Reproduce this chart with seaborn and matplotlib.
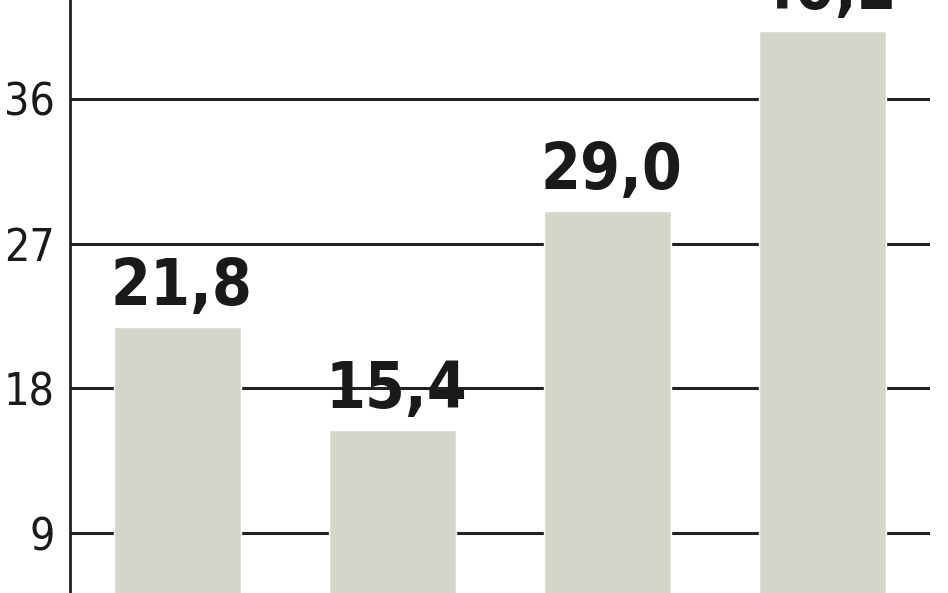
import matplotlib
matplotlib.use("Agg")
import matplotlib.pyplot as plt
import seaborn as sns

# values
categories = ["A", "B", "C", "D"]
values = [21.8, 15.4, 29.0, 40.2]
labels = ["21,8", "15,4", "29,0", "40,2"]
yticks = [9, 18, 27, 36]

sns.set_style("white")
plt.rcParams["font.family"] = ["DejaVu Sans"]

fig = plt.figure(figsize=(9.48, 5.93), dpi=100)
ax = fig.add_axes([70 / 948, 0, 860 / 948, 1])

sns.barplot(x=categories, y=values, color="#d5d6ca", width=0.595,
            saturation=1, ax=ax, zorder=3)

ax.set_xlim(-0.5, 3.5)
ax.set_ylim(5.27, 42.15)
ax.set_yticks(yticks)
ax.set_yticklabels([str(t) for t in yticks], fontsize=32,
                   fontstretch="condensed", color="#1a1a1a")
ax.tick_params(axis="y", length=0, pad=11)
ax.set_xticks([])
ax.set_xlabel("")
ax.set_ylabel("")

for t in yticks:
    ax.axhline(t, color="#222222", lw=2.2, zorder=1)

for s in ["top", "right", "bottom"]:
    ax.spines[s].set_visible(False)
ax.spines["left"].set_color("#222222")
ax.spines["left"].set_linewidth(2)

for i, (v, lab) in enumerate(zip(values, labels)):
    ax.text(i + 0.02, v + 1.37, lab, ha="center", va="baseline", fontsize=46,
            fontweight="bold", fontstretch="condensed", color="#1a1a1a")

fig.savefig("out.png", dpi=100)
